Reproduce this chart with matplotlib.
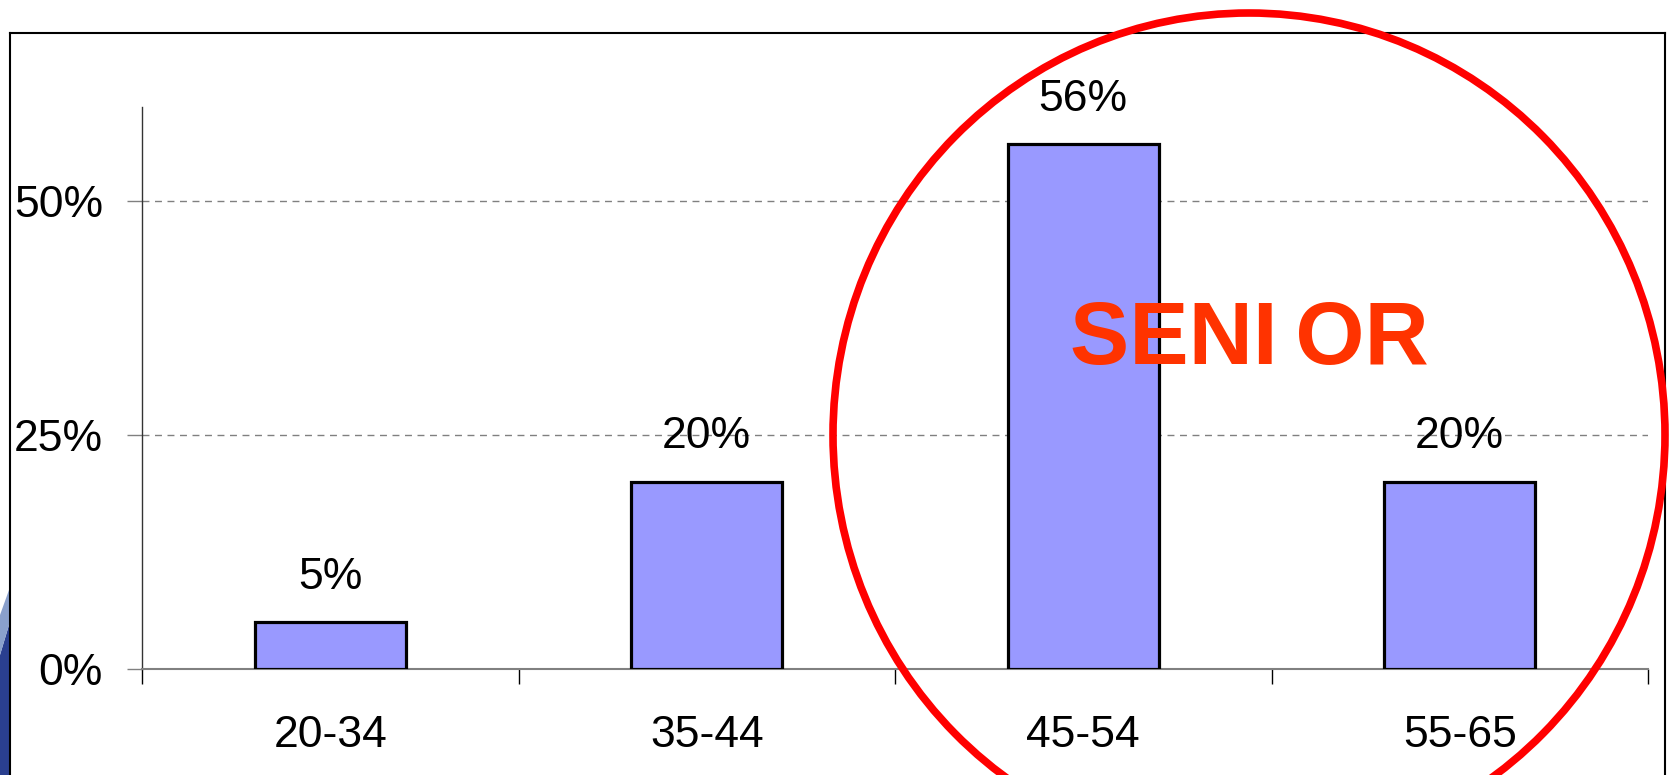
import matplotlib.pyplot as plt
from matplotlib.patches import Ellipse, Polygon
from matplotlib.lines import Line2D

plt.rcParams['font.family'] = ['Liberation Sans', 'DejaVu Sans']

# data
age_groups = ['20-34', '35-44', '45-54', '55-65']
shares = [5, 20, 56, 20]
bar_labels = ['5%', '20%', '56%', '20%']
y_ticks = [0, 25, 50]
y_tick_labels = ['0%', '25%', '50%']

W, H = 1670, 775
fig = plt.figure(figsize=(W / 100, H / 100), dpi=100)
fig.patch.set_facecolor('white')

# axes box in pixels
x0, x1 = 142, 1648
ytop, ybot = 107, 669
ax = fig.add_axes([x0 / W, (H - ybot) / H, (x1 - x0) / W, (ybot - ytop) / H])

xpos = range(len(age_groups))
ax.bar(xpos, shares, width=0.4, color='#9999FF', edgecolor='black',
       linewidth=2.3, zorder=3)
for x, v, lab in zip(xpos, shares, bar_labels):
    ax.text(x, v + 4.8, lab, ha='center', va='center', fontsize=32, zorder=4)

ax.set_xlim(-0.5, len(age_groups) - 0.5)
ax.set_ylim(0, 60)
ax.set_yticks(y_ticks)
ax.set_yticklabels(y_tick_labels, fontsize=32)
ax.set_xticks([i + 0.5 for i in range(-1, len(age_groups))])
ax.set_xticklabels([])
ax.set_xticks(list(xpos), minor=True)
ax.set_xticklabels(age_groups, minor=True, fontsize=32)
ax.tick_params(axis='x', which='major', length=10.5, width=1, color='black',
               direction='out')
ax.tick_params(axis='x', which='minor', length=0, pad=33)
ax.tick_params(axis='y', length=11, width=1, color='#808080', pad=17)

for s in ['top', 'right']:
    ax.spines[s].set_visible(False)
ax.spines['left'].set_color('#333333')
ax.spines['left'].set_linewidth(1)
ax.spines['bottom'].set_color('#808080')
ax.spines['bottom'].set_linewidth(1.5)
ax.yaxis.grid(True, linestyle=(0, (5, 4)), color='#808080', linewidth=1)
ax.set_axisbelow(True)
ax.set_facecolor('none')

# slide frame
frame_kw = dict(color='black', linewidth=1.5, transform=fig.transFigure)
fig.add_artist(Line2D([10 / W, 10 / W], [0, 1 - 33 / H], **frame_kw))
fig.add_artist(Line2D([10 / W, 1665 / W], [1 - 33 / H, 1 - 33 / H], **frame_kw))
fig.add_artist(Line2D([1665 / W, 1665 / W], [0, 1 - 33 / H], **frame_kw))

# bit of background at left edge
fig.add_artist(Polygon([[0, 0], [9 / W, 0], [9 / W, 150 / H], [0, 120 / H]],
                       closed=True, facecolor='#2a3f8f', edgecolor='none',
                       transform=fig.transFigure))
fig.add_artist(Polygon([[0, 120 / H], [9 / W, 150 / H], [9 / W, 185 / H],
                        [0, 160 / H]],
                       closed=True, facecolor='#8aa0cc', edgecolor='none',
                       transform=fig.transFigure))

# red circle + label
fig.add_artist(Ellipse((1249 / W, 1 - 435 / H), 832 / W, 844 / H,
                       fill=False, edgecolor='#FF0000', linewidth=5.5,
                       transform=fig.transFigure, zorder=10))
fig.text(1249 / W, 1 - 341 / H, 'SENI\u2009OR', color='#FF3300', fontsize=64,
         fontweight='bold', ha='center', va='center', zorder=11)

fig.savefig('out.png', dpi=100)
